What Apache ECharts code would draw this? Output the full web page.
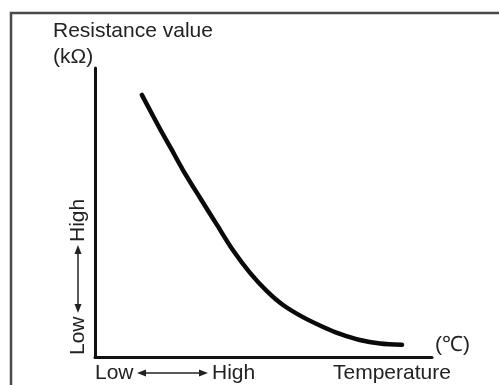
<!DOCTYPE html>
<html>
<head>
<meta charset="utf-8">
<script src="https://cdn.jsdelivr.net/npm/echarts@6/dist/echarts.min.js"></script>
<style>html,body{margin:0;padding:0;background:#fff;}#c{width:499px;height:385px;}</style>
</head>
<body>
<div id="c"></div>
<script>
// Relative units (0-100 on both axes)
var temperature = [13.9, 19.3, 22.3, 26.1, 31.2, 36.2, 40.9, 46.0, 51.0, 55.8, 61.7, 67.7, 72.7, 78.6, 84.6, 91.1];
var resistance  = [90.7, 78.9, 72.7, 64.7, 55.0, 45.7, 37.0, 29.1, 22.8, 18.0, 13.8, 10.4, 8.0, 5.9, 4.7, 4.2];
var yTitle = ['Resistance value', '(kΩ)'];
var xTitle = 'Temperature';
var xUnit = '(℃)';
var lowLabel = 'Low', highLabel = 'High';

var points = temperature.map(function (t, i) { return [t, resistance[i]]; });
var FONT = '"Liberation Sans", Arial, sans-serif';
var TXT = '#222';

var chart = echarts.init(document.getElementById('c'), null, {renderer: 'canvas'});
var axisCommon = {
  type: 'value', min: 0, max: 100,
  axisLine: {show: true, onZero: false, lineStyle: {color: '#111', width: 3}},
  axisTick: {show: false}, axisLabel: {show: false}, splitLine: {show: false}
};
function txt(x, y, s, opts) {
  return Object.assign({type: 'text', x: x, y: y, style: {text: s, fill: TXT, font: '21px ' + FONT, textAlign: 'left', textVerticalAlign: 'middle'}}, opts || {});
}
function hArrow(x1, x2, y) {
  return {type: 'group', children: [
    {type: 'line', shape: {x1: x1 + 6, y1: y, x2: x2 - 6, y2: y}, style: {stroke: TXT, lineWidth: 1.5}},
    {type: 'polygon', shape: {points: [[x1, y], [x1 + 9, y - 3.5], [x1 + 9, y + 3.5]]}, style: {fill: TXT}},
    {type: 'polygon', shape: {points: [[x2, y], [x2 - 9, y - 3.5], [x2 - 9, y + 3.5]]}, style: {fill: TXT}}
  ]};
}
function vArrow(x, y1, y2) {
  return {type: 'group', children: [
    {type: 'line', shape: {x1: x, y1: y1 + 6, x2: x, y2: y2 - 6}, style: {stroke: TXT, lineWidth: 1.5}},
    {type: 'polygon', shape: {points: [[x, y1], [x - 3.5, y1 + 9], [x + 3.5, y1 + 9]]}, style: {fill: TXT}},
    {type: 'polygon', shape: {points: [[x, y2], [x - 3.5, y2 - 9], [x + 3.5, y2 - 9]]}, style: {fill: TXT}}
  ]};
}

chart.setOption({
  animation: false,
  backgroundColor: '#fff',
  grid: {left: 95, top: 68, right: 67, bottom: 28},
  xAxis: axisCommon,
  yAxis: axisCommon,
  series: [{
    type: 'line', data: points, smooth: 0.3, showSymbol: false,
    lineStyle: {color: '#0a0a0a', width: 4.5, cap: 'round', join: 'round'}
  }],
  graphic: [
    {type: 'rect', shape: {x: 11, y: 13, width: 495, height: 385}, style: {fill: 'none', stroke: '#4a4a4a', lineWidth: 2.5}, silent: true},
    txt(53, 31, yTitle[0]),
    txt(53, 57, yTitle[1]),
    txt(435, 345, xUnit),
    txt(333, 373, xTitle),
    txt(95, 373, lowLabel),
    hArrow(137, 208, 373),
    txt(212, 373, highLabel),
    txt(78, 355, lowLabel, {rotation: Math.PI / 2}),
    vArrow(78, 245, 313),
    txt(78, 242, highLabel, {rotation: Math.PI / 2})
  ]
});
</script>
</body>
</html>
